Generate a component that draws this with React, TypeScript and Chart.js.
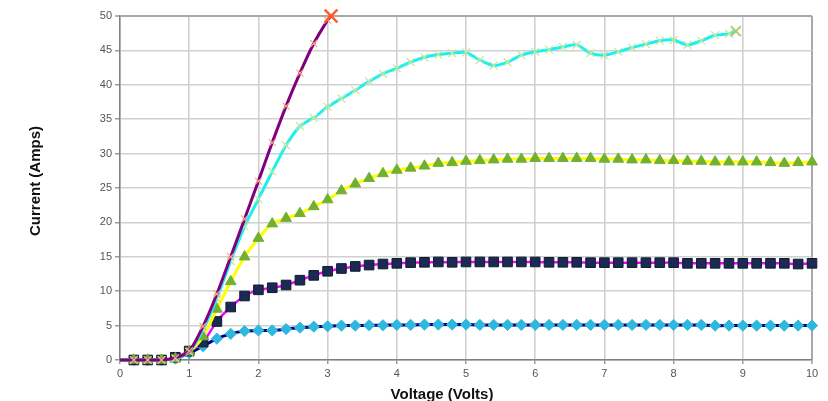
import React, { useEffect, useRef } from "react";
import { Chart, registerables } from "chart.js";
Chart.register(...registerables);

// Voltage (Volts) sample points, 0.2 V apart
const voltage = [0, 0.2, 0.4, 0.6, 0.8, 1, 1.2, 1.4, 1.6, 1.8, 2, 2.2, 2.4, 2.6, 2.8, 3, 3.2, 3.4, 3.6, 3.8, 4, 4.2, 4.4, 4.6, 4.8, 5, 5.2, 5.4, 5.6, 5.8, 6, 6.2, 6.4, 6.6, 6.8, 7, 7.2, 7.4, 7.6, 7.8, 8, 8.2, 8.4, 8.6, 8.8, 9, 9.2, 9.4, 9.6, 9.8, 10];
const voltageCyan = [0, 0.2, 0.4, 0.6, 0.8, 1, 1.2, 1.4, 1.6, 1.8, 2, 2.2, 2.4, 2.6, 2.8, 3, 3.2, 3.4, 3.6, 3.8, 4, 4.2, 4.4, 4.6, 4.8, 5, 5.2, 5.4, 5.6, 5.8, 6, 6.2, 6.4, 6.6, 6.8, 7, 7.2, 7.4, 7.6, 7.8, 8, 8.2, 8.4, 8.6, 8.8, 8.9];
const voltagePurple = [0, 0.2, 0.4, 0.6, 0.8, 1, 1.2, 1.4, 1.6, 1.8, 2, 2.2, 2.4, 2.6, 2.8, 3, 3.05];

// Current (Amps)
const currentDiamond = [0, 0, 0, 0, 0.2, 1.0, 2.0, 3.1, 3.8, 4.2, 4.3, 4.3, 4.5, 4.7, 4.85, 4.9, 5.0, 5.0, 5.05, 5.05, 5.1, 5.1, 5.15, 5.15, 5.15, 5.15, 5.1, 5.1, 5.1, 5.1, 5.1, 5.1, 5.1, 5.1, 5.1, 5.1, 5.1, 5.1, 5.1, 5.1, 5.1, 5.1, 5.1, 5.0, 5.0, 5.0, 5.0, 5.0, 5.0, 5.0, 5.0];
const currentSquare = [0, 0, 0, 0, 0.4, 1.3, 2.6, 5.6, 7.7, 9.3, 10.2, 10.5, 10.9, 11.6, 12.3, 12.9, 13.3, 13.6, 13.8, 13.95, 14.05, 14.15, 14.2, 14.25, 14.2, 14.25, 14.25, 14.25, 14.25, 14.25, 14.25, 14.2, 14.2, 14.2, 14.15, 14.15, 14.15, 14.15, 14.15, 14.15, 14.15, 14.05, 14.05, 14.05, 14.05, 14.05, 14.05, 14.05, 14.05, 13.95, 14.05];
const currentTriangle = [0, 0, 0, 0, 0.2, 1.2, 3.4, 7.4, 11.4, 15.0, 17.7, 19.8, 20.6, 21.3, 22.3, 23.3, 24.6, 25.6, 26.4, 27.1, 27.6, 27.9, 28.2, 28.6, 28.7, 28.9, 29.0, 29.1, 29.2, 29.2, 29.3, 29.3, 29.3, 29.3, 29.3, 29.2, 29.2, 29.1, 29.1, 29.0, 29.0, 28.9, 28.9, 28.8, 28.8, 28.8, 28.8, 28.7, 28.6, 28.7, 28.8];
const currentCyan = [0, 0, 0, 0, 0.2, 1.2, 4.4, 9.0, 14.4, 19.4, 23.4, 27.4, 31.2, 34.0, 35.2, 36.8, 38.0, 39.2, 40.5, 41.6, 42.4, 43.3, 44.0, 44.4, 44.6, 44.7, 43.6, 42.8, 43.3, 44.3, 44.8, 45.1, 45.5, 45.8, 44.6, 44.3, 44.8, 45.4, 45.9, 46.4, 46.5, 45.8, 46.4, 47.2, 47.4, 47.8];
const currentPurple = [0, 0, 0, 0, 0.3, 1.3, 4.9, 9.6, 15.0, 20.5, 26.0, 31.6, 36.9, 41.7, 46.0, 49.4, 50];

const xTitle = "Voltage (Volts)";
const yTitle = "Current (Amps)";

const FONT = "'Liberation Sans', Arial, sans-serif";

function pts(xs: number[], ys: number[]) {
  return xs.map((x, i) => ({ x, y: ys[i] }));
}

const titlesPlugin = {
  id: "axisTitles",
  afterDraw(chart: any) {
    const ctx = chart.ctx;
    ctx.save();
    ctx.fillStyle = "#111";
    ctx.font = `bold 15px ${FONT}`;
    ctx.textAlign = "center";
    ctx.textBaseline = "alphabetic";
    ctx.fillText(xTitle, 442, 399);
    ctx.translate(36, 181);
    ctx.rotate(-Math.PI / 2);
    ctx.textBaseline = "middle";
    ctx.fillText(yTitle, 0, 0);
    ctx.restore();
  },
};

export default function App() {
  const ref = useRef<HTMLCanvasElement>(null);
  useEffect(() => {
    if (!ref.current) return;
    const firstHidden = (r: number) => (c: any) => (c.dataIndex === 0 ? 0 : r);
    const chart = new Chart(ref.current, {
      type: "scatter",
      data: {
        datasets: [
          {
            data: pts(voltagePurple, currentPurple),
            showLine: true,
            borderColor: "#800080",
            borderWidth: 3,
            tension: 0.25,
            pointStyle: "crossRot",
            pointRadius: (c: any) => (c.dataIndex === 0 ? 0 : c.dataIndex === voltagePurple.length - 1 ? 9 : 5),
            pointBorderWidth: (c: any) => (c.dataIndex === voltagePurple.length - 1 ? 2.5 : 1.2),
            pointBorderColor: (c: any) => (c.dataIndex === voltagePurple.length - 1 ? "#FF5A28" : "#F7A98A"),
            clip: false as any,
          },
          {
            data: pts(voltageCyan, currentCyan),
            showLine: true,
            borderColor: "#1EF0F0",
            borderWidth: 3,
            tension: 0.25,
            pointStyle: "crossRot",
            pointRadius: (c: any) => (c.dataIndex === 0 ? 0 : c.dataIndex === voltageCyan.length - 1 ? 7 : 5.5),
            pointBorderWidth: (c: any) => (c.dataIndex === voltageCyan.length - 1 ? 2 : 1.3),
            pointBorderColor: (c: any) => (c.dataIndex === voltageCyan.length - 1 ? "#A8D070" : "#C8E6A0"),
            clip: false as any,
          },
          {
            data: pts(voltage, currentTriangle),
            showLine: true,
            borderColor: "#FFFF00",
            borderWidth: 3,
            tension: 0.25,
            pointStyle: "triangle",
            pointRadius: firstHidden(6.2),
            pointBackgroundColor: "#72B02E",
            pointBorderColor: "#72B02E",
            pointBorderWidth: 1,
            clip: false as any,
          },
          {
            data: pts(voltage, currentSquare),
            showLine: true,
            borderColor: "#FF00FF",
            borderWidth: 2.5,
            tension: 0.2,
            pointStyle: "rect",
            pointRadius: firstHidden(6.8),
            pointBackgroundColor: "#1B2A52",
            pointBorderColor: "#111a38",
            pointBorderWidth: 1,
            clip: false as any,
          },
          {
            data: pts(voltage, currentDiamond),
            showLine: true,
            borderColor: "#000080",
            borderWidth: 3,
            tension: 0.2,
            pointStyle: "rectRot",
            pointRadius: firstHidden(5.6),
            pointBackgroundColor: "#2EB8E0",
            pointBorderColor: "#2EB8E0",
            pointBorderWidth: 1,
            clip: false as any,
          },
        ],
      },
      options: {
        animation: false,
        responsive: true,
        maintainAspectRatio: false,
        layout: { padding: { top: 16, right: 16, left: 0, bottom: 0 } },
        plugins: { legend: { display: false }, tooltip: { enabled: false } },
        scales: {
          x: {
            type: "linear",
            min: 0,
            max: 10,
            afterFit: (s: any) => {
              s.height = 41;
            },
            ticks: { stepSize: 1, color: "#555", font: { family: FONT, size: 11 }, padding: 3 },
            grid: {
              color: (c: any) => (c.tick && c.tick.value === 10 ? "#a8a8a8" : "#d0d0d0"),
              lineWidth: (c: any) => (c.tick && c.tick.value === 10 ? 2 : 1.6),
              tickLength: 4,
              tickColor: "#808080",
              tickWidth: 1.2,
            },
            border: { color: "#808080", width: 1.5 },
          },
          y: {
            min: 0,
            max: 50,
            afterFit: (s: any) => {
              s.width = 120;
            },
            ticks: { stepSize: 5, color: "#555", font: { family: FONT, size: 11 }, padding: 3 },
            grid: {
              color: (c: any) => (c.tick && c.tick.value === 50 ? "#a8a8a8" : "#d0d0d0"),
              lineWidth: (c: any) => (c.tick && c.tick.value === 50 ? 2 : 1.6),
              tickLength: 5,
              tickColor: "#808080",
              tickWidth: 1.2,
            },
            border: { color: "#808080", width: 1.5 },
          },
        },
      },
      plugins: [titlesPlugin],
    });
    return () => chart.destroy();
  }, []);
  return (
    <div style={{ position: "fixed", left: 0, top: 0, width: 828, height: 401, background: "#fff" }}>
      <canvas ref={ref} />
    </div>
  );
}
